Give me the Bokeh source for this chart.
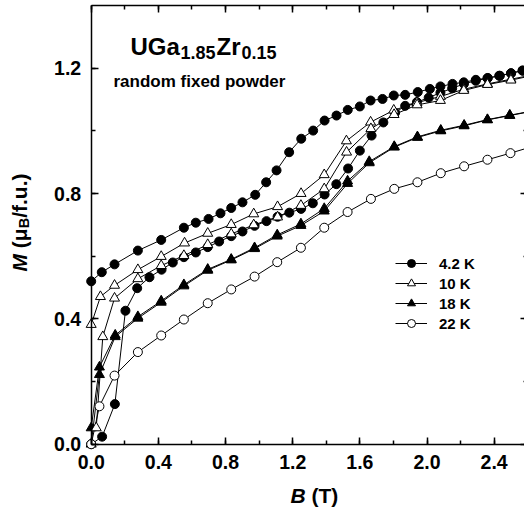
import math
from bokeh.plotting import figure
from bokeh.models import (Label, LinearAxis, Legend, LegendItem, Range1d,
                          SingleIntervalTicker, NumeralTickFormatter,
                          CustomJSTickFormatter)
from bokeh.embed import file_html
from bokeh.resources import INLINE

# ---------------- data ----------------
# 4.2 K, field decreasing branch (remanent M at B=0)
b42_dn = [0.0, 0.063, 0.139, 0.278, 0.417, 0.552, 0.623, 0.699, 0.770, 0.834, 0.901,
          0.977, 1.042, 1.104, 1.179, 1.251, 1.322, 1.390, 1.461, 1.528, 1.600, 1.664,
          1.735, 1.802, 1.870, 1.945, 2.017, 2.080, 2.152, 2.219, 2.291, 2.362, 2.434,
          2.501, 2.569]
m42_dn = [0.520, 0.549, 0.574, 0.618, 0.652, 0.691, 0.707, 0.719, 0.737, 0.754, 0.772,
          0.796, 0.836, 0.874, 0.932, 0.975, 1.001, 1.033, 1.049, 1.067, 1.078, 1.097,
          1.102, 1.113, 1.115, 1.124, 1.134, 1.142, 1.150, 1.155, 1.163, 1.169, 1.176,
          1.184, 1.193]
# 4.2 K, virgin (field increasing) branch
b42_up = [0.0, 0.065, 0.141, 0.204, 0.274, 0.347, 0.419, 0.486, 0.552, 0.623, 0.694,
          0.762, 0.834, 0.901, 0.973, 1.044, 1.110, 1.180, 1.250, 1.320, 1.390, 1.460,
          1.530, 1.600, 1.670, 1.740, 1.810, 1.870, 1.940, 2.010, 2.080, 2.150, 2.220,
          2.290, 2.360, 2.430, 2.500, 2.570]
m42_up = [0.0, 0.024, 0.128, 0.426, 0.498, 0.533, 0.557, 0.580, 0.597, 0.612, 0.629,
          0.647, 0.664, 0.679, 0.697, 0.712, 0.726, 0.739, 0.751, 0.769, 0.797, 0.830,
          0.880, 0.937, 0.985, 1.027, 1.058, 1.080, 1.092, 1.106, 1.122, 1.136, 1.150,
          1.160, 1.168, 1.176, 1.184, 1.192]
# 10 K, field decreasing branch
b10_dn = [0.0, 0.055, 0.139, 0.278, 0.417, 0.556, 0.694, 0.834, 0.968, 1.110, 1.250,
          1.388, 1.520, 1.664, 1.802, 1.940, 2.080, 2.220, 2.360, 2.500, 2.640]
m10_dn = [0.382, 0.471, 0.507, 0.557, 0.599, 0.642, 0.673, 0.701, 0.735, 0.758, 0.800,
          0.860, 0.968, 1.028, 1.066, 1.090, 1.110, 1.133, 1.150, 1.165, 1.180]
# 10 K, virgin branch
b10_up = [0.030, 0.069, 0.139, 0.278, 0.417, 0.552, 0.694, 0.834, 0.968, 1.110, 1.249,
          1.388, 1.521, 1.666, 1.804, 1.941, 2.080, 2.219, 2.360, 2.500, 2.640]
m10_up = [0.052, 0.343, 0.466, 0.528, 0.570, 0.602, 0.637, 0.671, 0.700, 0.725, 0.762,
          0.815, 0.932, 1.007, 1.052, 1.083, 1.097, 1.129, 1.148, 1.162, 1.178]
# 18 K, two nearly identical branches
b18 = [0.0, 0.049, 0.143, 0.278, 0.417, 0.552, 0.694, 0.834, 0.973, 1.108, 1.249,
       1.388, 1.527, 1.656, 1.805, 1.943, 2.082, 2.221, 2.360, 2.493, 2.630]
m18_dn = [0.052, 0.246, 0.348, 0.407, 0.457, 0.509, 0.558, 0.590, 0.627, 0.668, 0.703,
          0.752, 0.840, 0.902, 0.950, 0.981, 1.002, 1.018, 1.036, 1.050, 1.064]
m18_up = [0.0, 0.222, 0.343, 0.402, 0.453, 0.505, 0.555, 0.588, 0.624, 0.664, 0.698,
          0.744, 0.832, 0.898, 0.948, 0.979, 1.000, 1.016, 1.035, 1.049, 1.063]
# 22 K
b22 = [0.0, 0.049, 0.139, 0.278, 0.417, 0.552, 0.694, 0.834, 0.973, 1.108, 1.249,
       1.388, 1.527, 1.666, 1.805, 1.943, 2.082, 2.221, 2.360, 2.497, 2.640]
m22 = [0.0, 0.121, 0.219, 0.294, 0.347, 0.398, 0.450, 0.494, 0.535, 0.581, 0.627,
       0.691, 0.741, 0.783, 0.815, 0.836, 0.865, 0.887, 0.908, 0.929, 0.952]

legend_labels = ["4.2 K", "10 K", "18 K", "22 K"]
x_box = (0.0, 2.6)   # axis box limits
y_box = (0.0, 1.4)

# ---------------- figure: frame spans the whole canvas ----------------
FONT = "Liberation Sans"
W, H = 524, 512
X0PX, SX = 90.7, 167.9     # pixel of B=0, pixels per tesla
Y0PX, SY = 443.7, 313.3    # pixel of M=0, pixels per unit

p = figure(frame_width=W, frame_height=H, min_border=0,
           x_range=Range1d(-X0PX / SX, (W - X0PX) / SX),
           y_range=Range1d((Y0PX - H) / SY, Y0PX / SY),
           x_axis_location=None, y_axis_location=None,
           output_backend="svg", toolbar_location=None)
p.outline_line_color = None
p.xgrid.visible = False
p.ygrid.visible = False
p.background_fill_color = "white"
p.border_fill_color = "white"

blank = CustomJSTickFormatter(code="return ''")

def make_axis(side, loc, bounds, labels, standoff=10):
    ax = LinearAxis(fixed_location=loc, bounds=bounds)
    ax.ticker = SingleIntervalTicker(interval=0.4, num_minor_ticks=2)
    ax.formatter = NumeralTickFormatter(format="0.0") if labels else blank
    ax.axis_line_width = 1.5
    ax.axis_line_color = "black"
    ax.major_tick_in = 7
    ax.major_tick_out = 0
    ax.minor_tick_in = 4
    ax.minor_tick_out = 0
    ax.major_tick_line_width = 1.5
    ax.minor_tick_line_width = 1.5
    ax.major_tick_line_color = "black"
    ax.minor_tick_line_color = "black"
    ax.major_label_text_font = FONT
    ax.major_label_text_font_style = "bold"
    ax.major_label_text_font_size = "19.5px"
    ax.major_label_text_color = "black"
    ax.major_label_standoff = standoff
    p.add_layout(ax, side)
    return ax

make_axis("below", y_box[0], x_box, True, standoff=11)
make_axis("above", y_box[1], x_box, False)
make_axis("left", x_box[0], y_box, True, standoff=10)
make_axis("right", x_box[1], y_box, False)

# ---------------- curves ----------------
LW = 1
l42 = p.line(b42_dn, m42_dn, line_color="black", line_width=LW)
p.line(b42_up, m42_up, line_color="black", line_width=LW)
l10 = p.line(b10_dn, m10_dn, line_color="black", line_width=LW)
p.line(b10_up, m10_up, line_color="black", line_width=LW)
l18 = p.line(b18, m18_dn, line_color="black", line_width=LW)
p.line(b18, m18_up, line_color="black", line_width=LW)
l22 = p.line(b22, m22, line_color="black", line_width=LW)

CS, TS = 9, 10
s42 = p.scatter(b42_dn, m42_dn, marker="circle", size=CS, fill_color="black", line_color="black")
p.scatter(b42_up, m42_up, marker="circle", size=CS, fill_color="black", line_color="black")
s18 = p.scatter(b18, m18_dn, marker="triangle", size=TS, fill_color="black", line_color="black")
p.scatter(b18, m18_up, marker="triangle", size=TS, fill_color="black", line_color="black")
s10 = p.scatter(b10_dn, m10_dn, marker="triangle", size=TS, fill_color="white", line_color="black")
p.scatter(b10_up, m10_up, marker="triangle", size=TS, fill_color="white", line_color="black")
s22 = p.scatter(b22, m22, marker="circle", size=CS, fill_color="white", line_color="black")

# ---------------- legend ----------------
items = [LegendItem(label=lab_, renderers=[lr, sr])
         for lab_, lr, sr in zip(legend_labels, [l42, l10, l18, l22], [s42, s10, s18, s22])]
legend = Legend(items=items, location=(395, H - 333), padding=0, margin=0, spacing=0,
                glyph_width=32, glyph_height=20, label_height=20, label_standoff=12,
                border_line_color=None, background_fill_alpha=0,
                label_text_font=FONT, label_text_font_style="bold",
                label_text_font_size="15px", label_text_color="black")
p.add_layout(legend)

# ---------------- texts ----------------
def dx(px):  # pixel -> data x
    return (px - X0PX) / SX
def dy(py):  # pixel -> data y
    return (Y0PX - py) / SY

OFF = 8  # measured offset of the rendered alphabetic baseline

def lab(px, py, text, size, style="bold", angle=0.0):
    if angle == 0.0:
        py -= OFF
    else:
        px -= OFF
    p.add_layout(Label(x=dx(px), y=dy(py), text=text, text_font=FONT,
                       text_font_style=style, text_font_size=size, text_color="black",
                       text_align="left", text_baseline="alphabetic", angle=angle))

# compound formula
lab(130, 53.5, "UGa", "24px")
lab(180, 59.5, "1.85", "18px")
lab(216, 53.5, "Zr", "24px")
lab(241, 59.5, "0.15", "18px")
lab(113, 88.5, "random fixed powder", "17px")

# x-axis title
lab(290, 503, "B", "21px", "bold italic")
lab(311, 503, "(T)", "21px")

# y-axis title (rotated, reading upward)
A = math.pi / 2
lab(27, 271, "M", "21px", "bold italic", A)
lab(27, 247.7, "(\u03bc", "21px", "bold", A)
lab(31, 227.8, "B", "14.5px", "bold", A)
lab(27, 217.3, "/f.u.)", "21px", "bold", A)

open("out.html", "w").write(file_html(p, INLINE))
